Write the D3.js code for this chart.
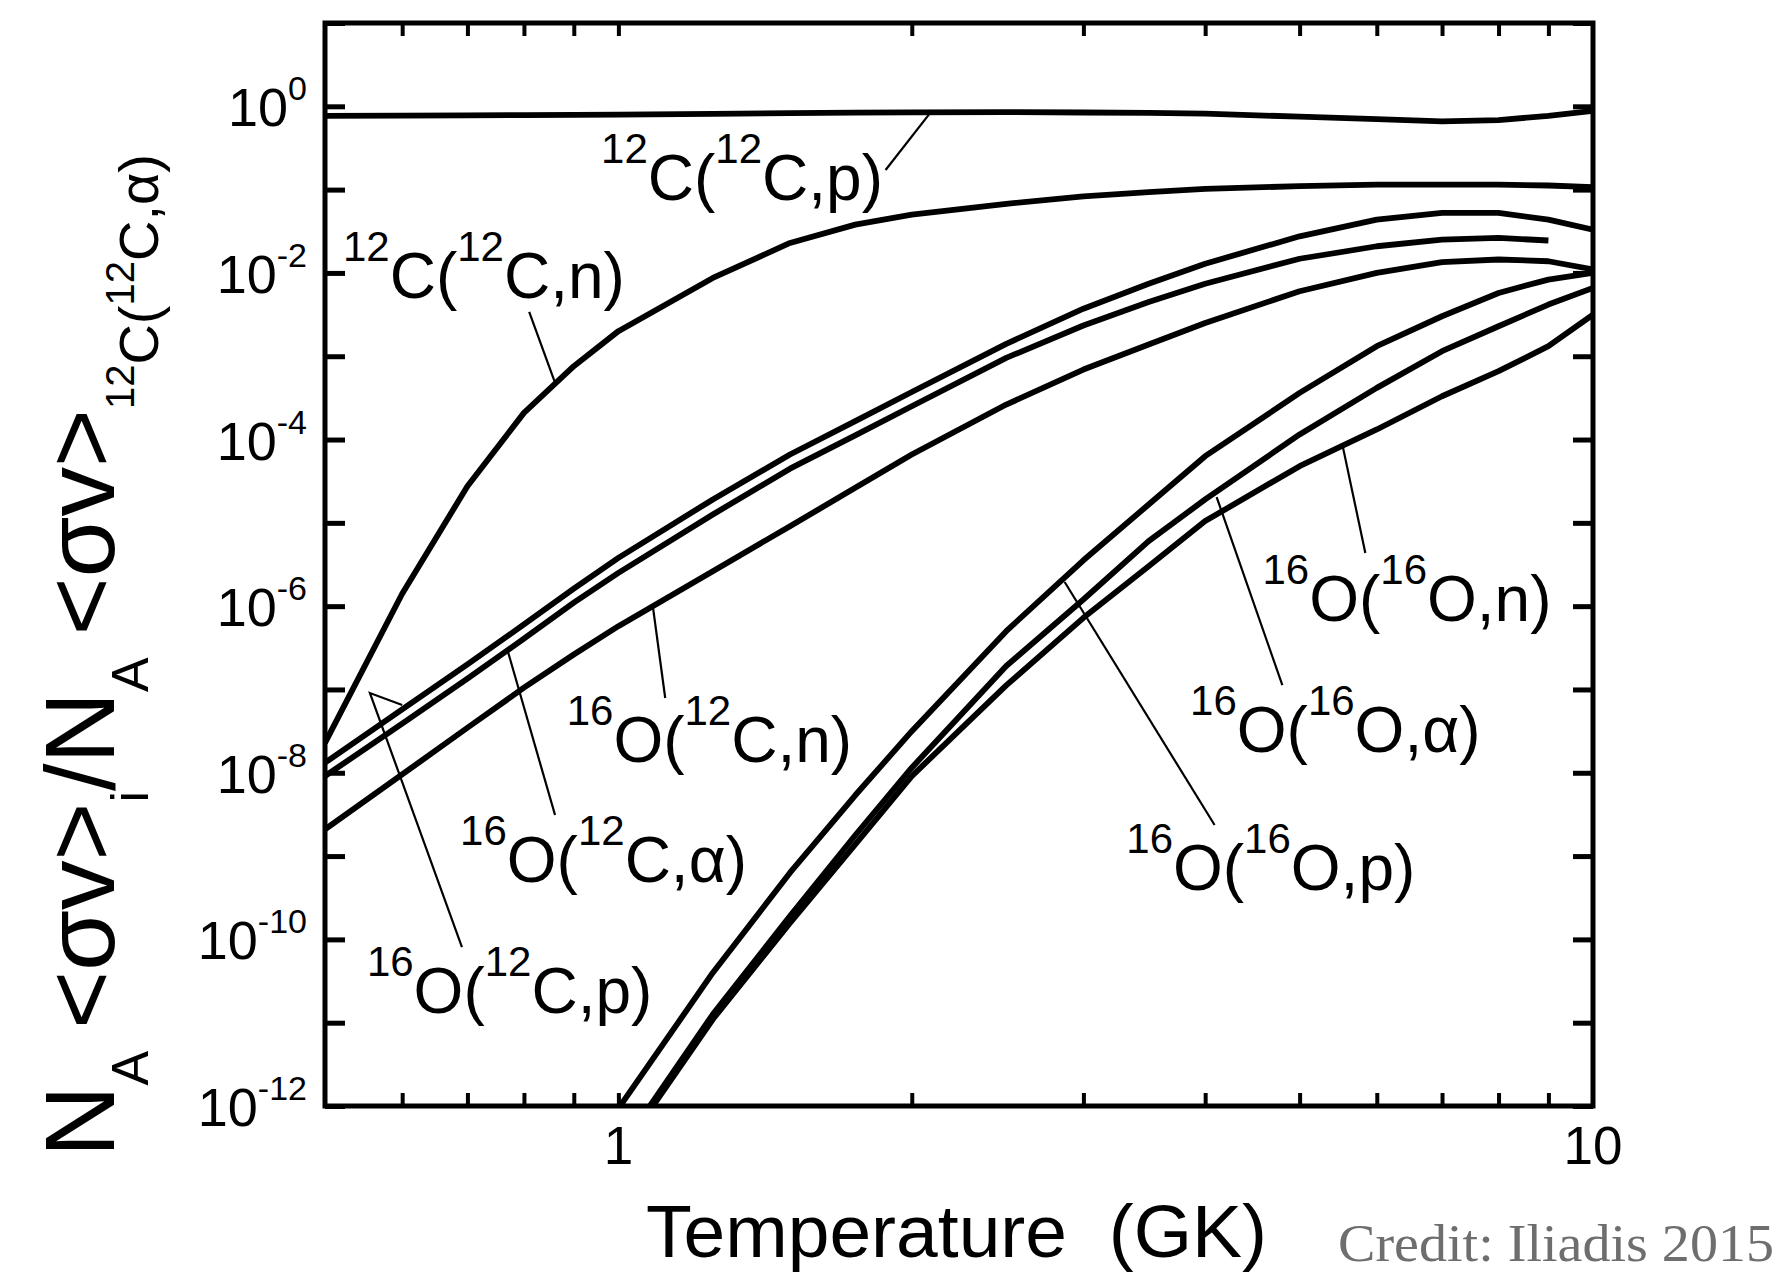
<!DOCTYPE html>
<html>
<head>
<meta charset="utf-8">
<script src="https://cdn.jsdelivr.net/npm/d3@7"></script>
<style>
  html, body { margin: 0; padding: 0; background: #ffffff; }
  svg { display: block; }
  text { font-family: "Liberation Sans", Arial, Helvetica, sans-serif; fill: #000; }
</style>
</head>
<body>
<svg id="chart" width="1788" height="1283"></svg>
<script>
// Temperature grid (GK) shared by all rate ratios
const temperatures = [0.5, 0.6, 0.7, 0.8, 0.9, 1.0, 1.25, 1.5, 1.75, 2, 2.5, 3, 3.5, 4, 5, 6, 7, 8, 9, 10];

// Rate ratios relative to 12C(12C,a); null = not tabulated
const c12c12p = [0.767, 0.773, 0.780, 0.785, 0.791, 0.796, 0.813, 0.828, 0.839, 0.847, 0.851, 0.843, 0.832, 0.817, 0.750, 0.700, 0.661, 0.684, 0.767, 0.881];
const c12c12n = [2.29e-8, 1.41e-6, 2.75e-5, 2.09e-4, 7.59e-4, 2.00e-3, 8.71e-3, 2.29e-2, 3.80e-2, 5.01e-2, 6.76e-2, 8.32e-2, 9.33e-2, 0.102, 0.110, 0.115, 0.115, 0.115, 0.112, 0.107];
const o16c12p = [1.32e-8, 5.75e-8, 2.00e-7, 6.03e-7, 1.62e-6, 3.80e-6, 1.91e-5, 6.61e-5, 1.66e-4, 3.72e-4, 1.41e-3, 3.72e-3, 7.41e-3, 1.29e-2, 2.75e-2, 4.37e-2, 5.25e-2, 5.25e-2, 4.37e-2, 3.31e-2];
const o16c12a = [9.12e-9, 3.89e-8, 1.35e-7, 4.07e-7, 1.10e-6, 2.51e-6, 1.26e-5, 4.47e-5, 1.12e-4, 2.51e-4, 9.55e-4, 2.34e-3, 4.47e-3, 7.41e-3, 1.48e-2, 2.09e-2, 2.51e-2, 2.63e-2, 2.45e-2, null];
const o16c12n = [2.09e-9, 9.55e-9, 3.47e-8, 1.05e-7, 2.63e-7, 5.75e-7, 2.63e-6, 9.12e-6, 2.63e-5, 6.61e-5, 2.63e-4, 6.92e-4, 1.38e-3, 2.51e-3, 6.03e-3, 1.00e-2, 1.35e-2, 1.45e-2, 1.38e-2, 1.10e-2];
const o16o16p = [null, null, null, null, null, 9.33e-13, 3.98e-11, 6.31e-10, 5.37e-9, 3.16e-8, 5.01e-7, 3.55e-6, 1.66e-5, 6.31e-5, 3.63e-4, 1.32e-3, 3.02e-3, 5.75e-3, 8.32e-3, 1.00e-2];
const o16o16a = [null, null, null, null, null, 2.82e-13, 1.26e-11, 1.91e-10, 1.78e-9, 1.15e-8, 1.91e-7, 1.20e-6, 6.03e-6, 1.91e-5, 1.15e-4, 4.17e-4, 1.15e-3, 2.29e-3, 4.17e-3, 6.61e-3];
const o16o16n = [null, null, null, null, null, 2.51e-13, 1.10e-11, 1.58e-10, 1.38e-9, 9.12e-9, 1.12e-7, 7.24e-7, 3.02e-6, 1.05e-5, 4.79e-5, 1.32e-4, 3.31e-4, 6.61e-4, 1.32e-3, 3.16e-3];

const seriesList = [c12c12p, c12c12n, o16c12p, o16c12a, o16c12n, o16o16p, o16o16a, o16o16n];

// Axis ticks
const yDecades = [1e1, 1e0, 1e-1, 1e-2, 1e-3, 1e-4, 1e-5, 1e-6, 1e-7, 1e-8, 1e-9, 1e-10, 1e-11, 1e-12];
const yTickExponents = ["0", "-2", "-4", "-6", "-8", "-10", "-12"];
const xTicks = [0.6, 0.7, 0.8, 0.9, 1, 2, 3, 4, 5, 6, 7, 8, 9];
const xTickLabels = [1, 10];

// Reaction labels: [target, projectile, ejectile], text start (T, ratio), leader points (T, ratio)
const labelNames = [["12", "C", "12", "C", "p"], ["12", "C", "12", "C", "n"], ["16", "O", "12", "C", "n"], ["16", "O", "12", "C", "\u03b1"],
                    ["16", "O", "12", "C", "p"], ["16", "O", "16", "O", "n"], ["16", "O", "16", "O", "\u03b1"], ["16", "O", "16", "O", "p"]];
const labelAnchors = [[0.96, 7.5e-2], [0.5217, 5.0e-3], [0.885, 1.35e-8], [0.688, 4.89e-10],
                      [0.552, 1.31e-11], [4.58, 6.64e-7], [3.86, 1.77e-8], [3.32, 3.92e-10]];
const leaderPaths = [
  [[1.88, 0.172], [2.09, 0.84]],
  [[0.81, 3.4e-3], [0.86, 5.0e-4]],
  [[1.085, 9.8e-7], [1.117, 7.9e-8]],
  [[0.77, 2.89e-7], [0.861, 3.11e-9]],
  [[0.691, 8.1e-11], [0.556, 9.06e-8], [0.6, 6.5e-8]],
  [[5.54, 8.0e-5], [5.84, 4.35e-6]],
  [[4.11, 2.04e-5], [4.8, 1.13e-7]],
  [[2.87, 1.95e-6], [4.09, 2.36e-9]]
];

const svg = d3.select("#chart");
svg.append("rect").attr("width", 1788).attr("height", 1283).attr("fill", "#fff");

const plot = { left: 325, right: 1593, top: 23, bottom: 1106 };
const x = d3.scaleLog().domain([0.5, 10]).range([plot.left, plot.right]);
const y = d3.scaleLog().domain([1e-12, 10]).range([plot.bottom, plot.top]);

svg.append("defs").append("clipPath").attr("id", "plot-clip")
  .append("rect").attr("x", plot.left).attr("y", plot.top)
  .attr("width", plot.right - plot.left).attr("height", plot.bottom - plot.top);

// Curves
const line = d3.line()
  .defined(d => d[1] != null)
  .x(d => x(d[0]))
  .y(d => y(d[1]));

svg.append("g").attr("clip-path", "url(#plot-clip)")
  .selectAll("path").data(seriesList).join("path")
  .attr("d", vals => line(temperatures.map((t, i) => [t, vals[i]])))
  .attr("fill", "none").attr("stroke", "#000").attr("stroke-width", 5.8)
  .attr("stroke-linejoin", "round").attr("stroke-linecap", "butt");

// Leader lines
svg.append("g").selectAll("path").data(leaderPaths).join("path")
  .attr("d", pts => d3.line().x(p => x(p[0])).y(p => y(p[1])).curve(d3.curveLinear)(pts))
  .attr("fill", "none").attr("stroke", "#000").attr("stroke-width", 2.2);

// Tick marks on all four sides, pointing inward
function styleTicks(g, w) {
  g.select(".domain").remove();
  g.selectAll(".tick line").attr("stroke", "#000").attr("stroke-width", w);
  g.selectAll(".tick text").remove();
}
svg.append("g").attr("transform", `translate(0,${plot.bottom})`)
  .call(d3.axisBottom(x).tickValues(xTicks).tickSize(-13).tickFormat(""))
  .call(g => styleTicks(g, 4));
svg.append("g").attr("transform", `translate(0,${plot.top})`)
  .call(d3.axisTop(x).tickValues(xTicks).tickSize(-13).tickFormat(""))
  .call(g => styleTicks(g, 4));
svg.append("g").attr("transform", `translate(${plot.left},0)`)
  .call(d3.axisLeft(y).tickValues(yDecades).tickSize(-20).tickFormat(""))
  .call(g => styleTicks(g, 5));
svg.append("g").attr("transform", `translate(${plot.right},0)`)
  .call(d3.axisRight(y).tickValues(yDecades).tickSize(-20).tickFormat(""))
  .call(g => styleTicks(g, 5));

// Frame
svg.append("rect")
  .attr("x", plot.left).attr("y", plot.top)
  .attr("width", plot.right - plot.left).attr("height", plot.bottom - plot.top)
  .attr("fill", "none").attr("stroke", "#000").attr("stroke-width", 5);

// Text with super/subscripts: parts = [{t, size, shift}] where shift raises the baseline
function richText(textSel, parts) {
  let prev = 0;
  parts.forEach(p => {
    textSel.append("tspan")
      .attr("font-size", p.size)
      .attr("dy", prev - p.shift)
      .attr("dx", p.dx || 0)
      .text(p.t);
    prev = p.shift;
  });
}

// Y tick labels
const yLab = svg.append("g");
yTickExponents.forEach(e => {
  const t = yLab.append("text")
    .attr("x", 307).attr("y", y(Math.pow(10, +e)) + 20)
    .attr("text-anchor", "end");
  richText(t, [{ t: "10", size: 54, shift: 0 }, { t: e, size: 34, shift: 26 }]);
});

// X tick labels
svg.append("g").selectAll("text").data(xTickLabels).join("text")
  .attr("x", d => x(d)).attr("y", 1164)
  .attr("text-anchor", "middle").attr("font-size", 53)
  .text(d => d);

// Reaction labels
labelNames.forEach((nm, i) => {
  const t = svg.append("text")
    .attr("x", x(labelAnchors[i][0])).attr("y", y(labelAnchors[i][1]));
  richText(t, [
    { t: nm[0], size: 42, shift: 37 },
    { t: nm[1] + "(", size: 64, shift: 0 },
    { t: nm[2], size: 42, shift: 37 },
    { t: nm[3] + "," + nm[4] + ")", size: 64, shift: 0 }
  ]);
});

// X axis title
svg.append("text")
  .attr("x", 646).attr("y", 1257)
  .attr("font-size", 75)
  .style("white-space", "pre")
  .text("Temperature  (GK)");

// Y axis title
const yTitle = svg.append("text")
  .attr("transform", "translate(114,1157) rotate(-90)")
  .attr("x", 0).attr("y", 0);
richText(yTitle, [
  { t: "N", size: 99, shift: 0 },
  { t: "A", size: 52, shift: -34 },
  { t: "<\u03c3v>", size: 99, shift: 0, dx: 22 },
  { t: "i", size: 52, shift: -34 },
  { t: "/N", size: 99, shift: 0 },
  { t: "A", size: 52, shift: -34 },
  { t: "<\u03c3v>", size: 99, shift: 0, dx: 22 },
  { t: "12", size: 40, shift: -20 },
  { t: "C(", size: 56, shift: -44 },
  { t: "12", size: 40, shift: -20 },
  { t: "C,\u03b1)", size: 56, shift: -44 }
]);

// Credit line
svg.append("text")
  .attr("x", 1338).attr("y", 1261)
  .attr("font-size", 52)
  .attr("textLength", 436).attr("lengthAdjust", "spacingAndGlyphs")
  .style("font-family", "'Liberation Serif', 'Times New Roman', serif")
  .style("fill", "#6e6e6e")
  .text("Credit: Iliadis 2015");
</script>
</body>
</html>
